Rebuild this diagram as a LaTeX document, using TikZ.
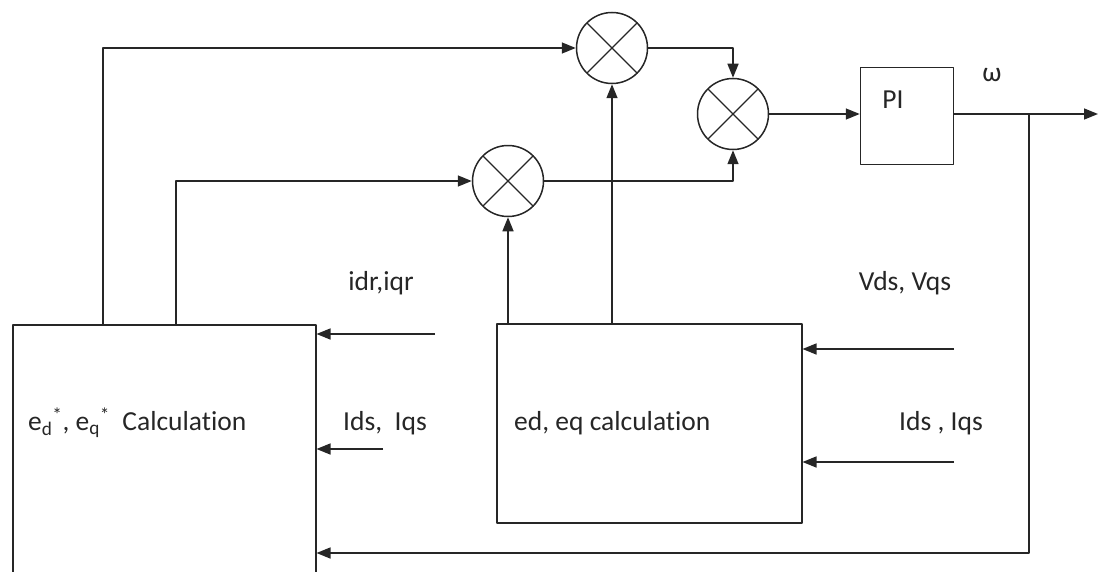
\documentclass[tikz,border=0pt]{standalone}
\usepackage{fontspec}
\setmainfont[Ligatures=NoCommon]{Carlito}
\usetikzlibrary{arrows.meta}

\begin{document}
\begin{tikzpicture}[x=1pt,y=-1pt,line join=round,color=black!85,
    font=\fontsize{27.5}{32}\selectfont,
    blk/.style={draw,line width=1.5pt,inner sep=0pt},
    mult/.style={circle,draw,line width=1.5pt,minimum size=71pt,inner sep=0pt,
      path picture={\draw[line width=1.1pt]
        (path picture bounding box.north west) -- (path picture bounding box.south east)
        (path picture bounding box.north east) -- (path picture bounding box.south west);}},
    sig/.style={line width=1.5pt,-{Triangle[length=14pt,width=11pt]}},
    txt/.style={inner sep=0pt}]

  \useasboundingbox (0,0) rectangle (1099,572);

  % ---- blocchi di calcolo ---------------------------------------------------
  \node[blk,minimum width=303pt,minimum height=270pt,anchor=north west] (lbox) at (12,324) {};
  \node[blk,minimum width=305pt,minimum height=199pt,anchor=north west] (ebox) at (496,323) {};
  \node[txt,anchor=west] (lname) at (28,423)
    {e\textsubscript{d}\textsuperscript{*}, e\textsubscript{q}\textsuperscript{*}\ \ Calculation};
  \node[txt,anchor=west] (ename) at (514,423) {ed, eq calculation};

  % ---- moltiplicatori e regolatore ------------------------------------------
  \node[mult] (m1) at (612,48) {};
  \node[mult] (m2) at (508,181) {};
  \node[mult] (m3) at (733,114) {};
  \node[blk,minimum width=93pt,minimum height=97pt] (pi) at (907,116) {};
  \node[txt] (piname) at (893,100) {PI};
  \node[txt] (omega) at (992,75) {ω};

  % ---- ingressi ------------------------------------------------------------
  \node[txt] (lin1) at (381,283) {idr,iqr};
  \node[txt] (lin2) at (385,423) {Ids,\ \ Iqs};
  \node[txt] (rin1) at (905,283) {Vds, Vqs};
  \node[txt] (rin2) at (941,423) {Ids , Iqs};
  \coordinate (inA) at (435,334);
  \coordinate (inB) at (383,449);
  \coordinate (inC) at (954,349);
  \coordinate (inD) at (954,462);
  \draw[sig] (inA) -- (inA -| lbox.east);
  \draw[sig] (inB) -- (inB -| lbox.east);
  \draw[sig] (inC) -- (inC -| ebox.east);
  \draw[sig] (inD) -- (inD -| ebox.east);

  % ---- collegamenti ----------------------------------------------------------
  \draw[sig] (lbox.north west) ++(91,0) |- (m1.west);
  \draw[sig] (lbox.north west) ++(164,0) |- (m2.west);
  \draw[sig] (ebox.north -| m2.south) -- (m2.south);
  \draw[sig] (ebox.north -| m1.south) -- (m1.south);
  \draw[sig] (m1.east) -| (m3.north);
  \draw[sig] (m2.east) -| (m3.south);
  \draw[sig] (m3.east) -- (m3.east -| pi.west);
  \coordinate (out) at (1098,114);
  \draw[sig] (out -| pi.east) -- (out);

  % ---- retroazione -----------------------------------------------------------
  \coordinate (br) at (1029,114);
  \coordinate (fb) at (1029,553);
  \draw[sig] (br) -- (fb) -- (fb -| lbox.east);

\end{tikzpicture}
\end{document}
